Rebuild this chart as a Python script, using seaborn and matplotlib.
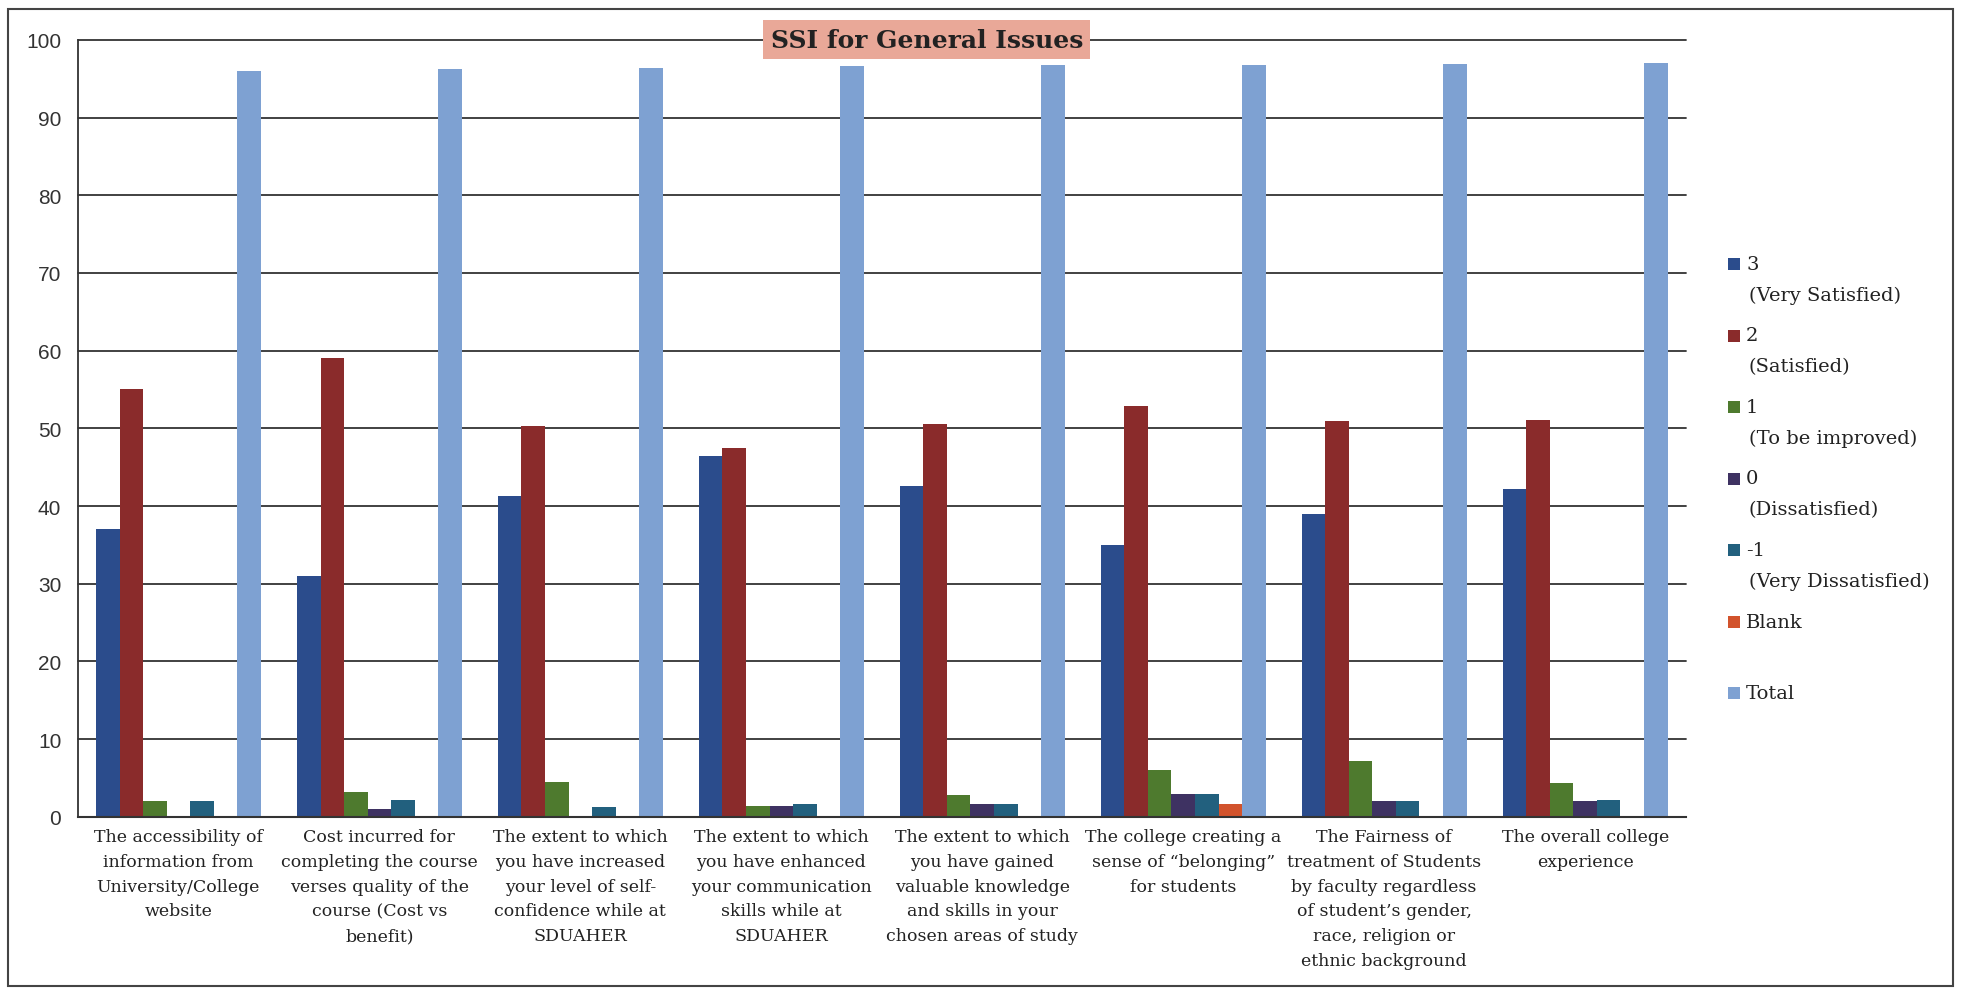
import matplotlib
matplotlib.use("Agg")
import matplotlib.pyplot as plt
import seaborn as sns
import pandas as pd
from matplotlib.patches import Rectangle

categories = [
    "The accessibility of\ninformation from\nUniversity/College\nwebsite",
    "Cost incurred for\ncompleting the course\nverses quality of the\ncourse (Cost vs\nbenefit)",
    "The extent to which\nyou have increased\nyour level of self-\nconfidence while at\nSDUAHER",
    "The extent to which\nyou have enhanced\nyour communication\nskills while at\nSDUAHER",
    "The extent to which\nyou have gained\nvaluable knowledge\nand skills in your\nchosen areas of study",
    "The college creating a\nsense of \u201cbelonging\u201d\nfor students",
    "The Fairness of\ntreatment of Students\nby faculty regardless\nof student\u2019s gender,\nrace, religion or\nethnic background",
    "The overall college\nexperience",
]
series_names = ["3\n(Very Satisfied)", "2\n(Satisfied)", "1\n(To be improved)",
                "0\n(Dissatisfied)", "-1\n(Very Dissatisfied)", "Blank", "Total"]
very_satisfied = [37, 31, 41.3, 46.5, 42.6, 35, 39, 42.2]
satisfied = [55, 59, 50.3, 47.5, 50.6, 52.9, 51, 51.1]
to_be_improved = [2, 3.2, 4.5, 1.4, 2.8, 6, 7.2, 4.4]
dissatisfied = [0, 1.0, 0, 1.4, 1.6, 3, 2, 2.1]
very_dissatisfied = [2, 2.2, 1.3, 1.6, 1.7, 3, 2, 2.2]
blank = [0, 0, 0, 0, 0, 1.6, 0, 0]
total = [96, 96.2, 96.4, 96.6, 96.7, 96.8, 96.9, 97]

colors = ["#2B4C8C", "#8A2B2B", "#4E7A2E", "#3E3262", "#22607E", "#D2532C", "#7EA1D2"]

series_values = [very_satisfied, satisfied, to_be_improved, dissatisfied,
                 very_dissatisfied, blank, total]
rows = []
for name, vals in zip(series_names, series_values):
    for cat, v in zip(categories, vals):
        rows.append({"category": cat, "series": name, "value": v})
df = pd.DataFrame(rows)

sns.set_style("white")
plt.rcParams["font.family"] = ["DejaVu Serif"]

W, H = 1963, 995
fig = plt.figure(figsize=(W / 100, H / 100), dpi=100)
ax = fig.add_axes([0.0397, 0.178, 0.819, 0.781])

sns.barplot(data=df, x="category", y="value", hue="series", order=categories,
            hue_order=series_names, palette=colors, width=0.82, gap=0,
            saturation=1, ax=ax, legend=False, errorbar=None, linewidth=0)

ax.set_ylim(0, 100)
ax.set_xlim(-0.5, len(categories) - 0.5)
ax.set_yticks(range(0, 101, 10))
ax.yaxis.grid(True, color="#333333", linewidth=1.3)
for gl in ax.get_ygridlines():
    gl.set_clip_on(False)
ax.set_axisbelow(True)
for s in ["top", "right"]:
    ax.spines[s].set_visible(False)
ax.spines["left"].set_color("#333333")
ax.spines["bottom"].set_color("#333333")
ax.spines["left"].set_linewidth(1.3)
ax.spines["bottom"].set_linewidth(1.5)
ax.set_xlabel("")
ax.set_ylabel("")
for lab in ax.get_yticklabels():
    lab.set_fontfamily("Liberation Sans")
    lab.set_fontsize(15)
    lab.set_color("#333333")
ax.tick_params(axis="y", length=6, color="#333333", pad=6)
ax.set_xticks(range(len(categories)))
ax.set_xticklabels(categories, fontsize=12.5, color="#222222", linespacing=1.6)
ax.tick_params(axis="x", length=0, pad=8)
ax.set_xticks([i + 0.5 for i in range(-1, len(categories))], minor=True)
ax.tick_params(axis="x", which="minor", length=8, color="#333333")

ax.text(0.528, 1.0, "SSI for General Issues", transform=ax.transAxes,
        ha="center", va="center", fontsize=18, fontweight="bold", color="#222222",
        bbox=dict(boxstyle="square,pad=0.3", facecolor="#E9A898", edgecolor="none"))

# legend drawn entry by entry so the swatch lines up with the first text line
sq = 12
for i, (name, col) in enumerate(zip(series_names, colors)):
    yc = 265 + 71.5 * i
    fig.patches.append(Rectangle((1728 / W, 1 - (yc + sq / 2) / H), sq / W, sq / H,
                                 transform=fig.transFigure, facecolor=col,
                                 edgecolor="none"))
    for j, line in enumerate(name.split("\n")):
        fig.text((1746 + (3 if j else 0)) / W, 1 - (yc + 31 * j) / H, line,
                 ha="left", va="center", fontsize=14, color="#222222")

fig.patches.append(Rectangle((0.004, 0.008), 0.991, 0.982, transform=fig.transFigure,
                             fill=False, edgecolor="#444444", linewidth=1.5))

fig.savefig("out.png", dpi=100, facecolor="white")
